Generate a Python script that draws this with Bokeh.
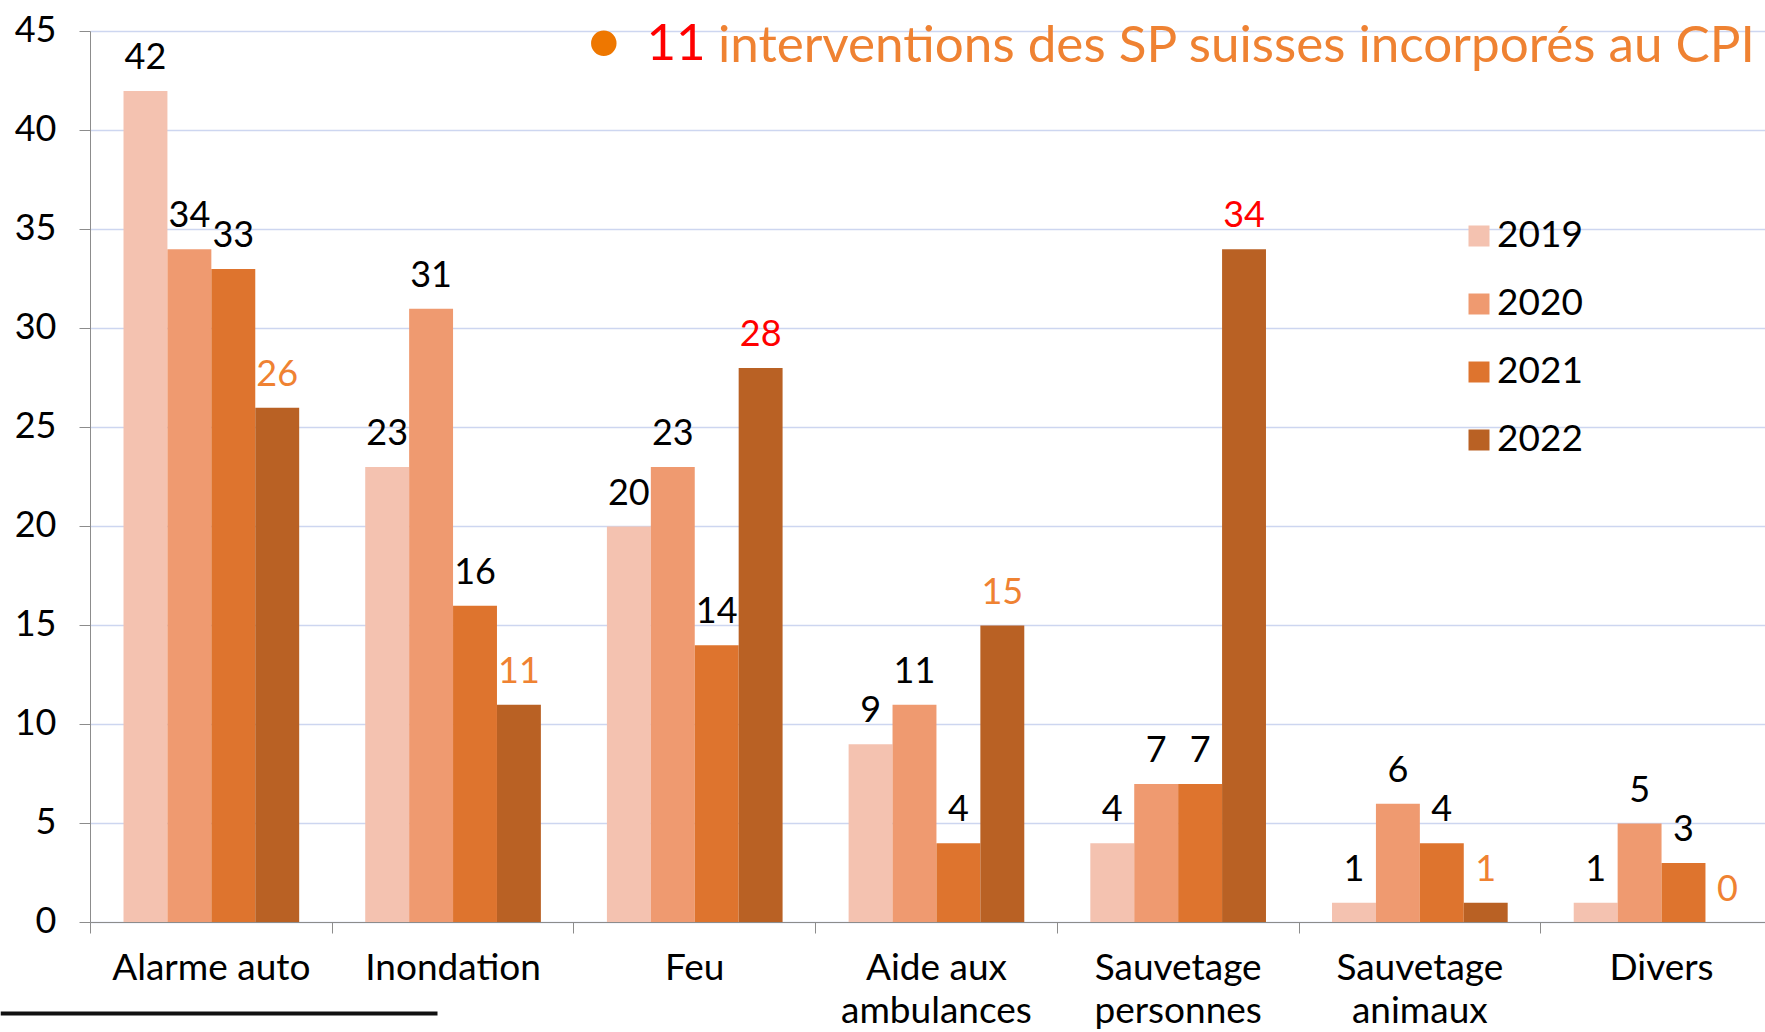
from bokeh.plotting import figure
from bokeh.models import LinearAxis, FixedTicker, Range1d
from bokeh.core.properties import value
from bokeh.embed import file_html
from bokeh.resources import INLINE

# ---------------- data ----------------
categories = ["Alarme auto", "Inondation", "Feu", "Aide aux\nambulances",
              "Sauvetage\npersonnes", "Sauvetage\nanimaux", "Divers"]
years = ["2019", "2020", "2021", "2022"]
v2019 = [42, 23, 20, 9, 4, 1, 1]
v2020 = [34, 31, 23, 11, 7, 6, 5]
v2021 = [33, 16, 14, 4, 7, 4, 3]
v2022 = [26, 11, 28, 15, 34, 1, 0]
label_kind_2022 = ["orange", "orange", "red", "orange", "red", "orange", "orange"]
y_ticks = [0, 5, 10, 15, 20, 25, 30, 35, 40, 45]
title_count = "11"
title_text = "interventions des SP suisses incorporés au CPI"

# ---------------- styles ----------------
bar_colors = ["#F4C2B0", "#EF9A70", "#DE742E", "#B96124"]
ORANGE = "#EF8232"
RED = "#FF0000"
FONT = value("Lato")
W, H = 1765, 1032
X0, PXX = 90.0, 241.7     # canvas x of y-axis, px per category
Y0, PXY = 922.0, 19.8     # canvas y of zero, px per unit
BW = 0.1817

def dx(px):
    return (px - X0) / PXX

def dy(py):
    return (Y0 - py) / PXY

x_start, x_end = dx(0), dx(W)
y_start, y_end = dy(H), dy(0)

p = figure(width=W, height=H, x_range=Range1d(x_start, x_end),
           y_range=Range1d(y_start, y_end), x_axis_type=None, y_axis_type=None,
           toolbar_location=None, output_backend="svg")
p.min_border = 0
p.min_border_left = 0
p.min_border_right = 0
p.min_border_top = 0
p.min_border_bottom = 0
p.outline_line_color = None
p.background_fill_color = "white"
p.border_fill_color = "white"

# grid lines
n = len(y_ticks)
p.segment(x0=[0] * n, y0=y_ticks, x1=[x_end] * n, y1=y_ticks,
          line_color="#CDD6F0", line_width=1.5)

# bars
series = [v2019, v2020, v2021, v2022]
for j, vals in enumerate(series):
    xs = [i + 0.5 + (j - 1.5) * BW for i in range(len(categories))]
    p.vbar(x=xs, width=BW, top=vals, bottom=0, fill_color=bar_colors[j],
           line_color=None)
    if j == 3:
        cols = [ORANGE if k == "orange" else RED for k in label_kind_2022]
    else:
        cols = ["#000000"] * len(vals)
    p.text(x=xs, y=vals, text=[str(v) for v in vals], text_color=cols,
           text_align="center", text_baseline="alphabetic", y_offset=-35,
           text_font=FONT, text_font_size="36px")

# category labels (two lines)
first = [c.split("\n")[0] for c in categories]
second = [c.split("\n")[1] if "\n" in c else "" for c in categories]
cx = [i + 0.5 for i in range(len(categories))]
p.text(x=cx, y=[dy(965)] * len(cx), text=first, text_align="center",
       text_baseline="alphabetic", text_font=FONT, text_font_size="37px",
       text_color="#000000")
p.text(x=cx, y=[dy(1008)] * len(cx), text=second, text_align="center",
       text_baseline="alphabetic", text_font=FONT, text_font_size="37px",
       text_color="#000000")

# axes
yax = LinearAxis(fixed_location=0, ticker=FixedTicker(ticks=y_ticks),
                 bounds=(0, 45))
yax.axis_line_color = "#8C8C8C"
yax.major_tick_line_color = "#8C8C8C"
yax.major_tick_out = 11
yax.major_tick_in = 0
yax.minor_tick_out = 0
yax.minor_tick_in = 0
yax.major_label_text_font_size = "0px"
yax.major_label_text_alpha = 0
p.add_layout(yax, "left")

# y tick labels as text (fine vertical placement)
p.text(x=[dx(56)] * n, y=y_ticks, text=[str(t) for t in y_ticks],
       text_align="right", text_baseline="alphabetic", y_offset=-3,
       text_font=FONT, text_font_size="36px", text_color="#000000")

xax = LinearAxis(fixed_location=0, ticker=FixedTicker(ticks=list(range(8))),
                 bounds=(0, 7))
xax.axis_line_color = "#8C8C8C"
xax.major_tick_line_color = "#8C8C8C"
xax.major_tick_out = 11
xax.major_tick_in = 0
xax.minor_tick_out = 0
xax.minor_tick_in = 0
xax.major_label_text_font_size = "0px"
xax.major_label_text_alpha = 0
p.add_layout(xax, "below")

# legend (manual)
ly = [235.5 + 68 * j for j in range(len(years))]
p.scatter(x=[dx(1478.5)] * 4, y=[dy(c) for c in ly], marker="square", size=21,
          fill_color=bar_colors, line_color=None)
p.text(x=[dx(1496.5)] * 4, y=[dy(c - 2.5) for c in ly], text=years,
       text_align="left", text_baseline="alphabetic", text_font=FONT,
       text_font_size="37px", text_color="#000000")

# title
p.scatter(x=[dx(603.3)], y=[dy(42.7)], marker="circle", size=25.5,
          fill_color="#EE7700", line_color=None)
p.text(x=[dx(646)], y=[dy(41)], text=[title_count], text_align="left",
       text_baseline="alphabetic", text_font=FONT, text_font_size="51px",
       text_color=RED)
p.text(x=[dx(717.5)], y=[dy(41)], text=[title_text], text_align="left",
       text_baseline="alphabetic", text_font=FONT, text_font_size="51.2px",
       text_color=ORANGE)

# decorative black line at bottom-left
p.line(x=[x_start, dx(437)], y=[dy(1013), dy(1013)], line_width=4,
       line_color="#111111")

open("out.html", "w").write(file_html(p, INLINE))
